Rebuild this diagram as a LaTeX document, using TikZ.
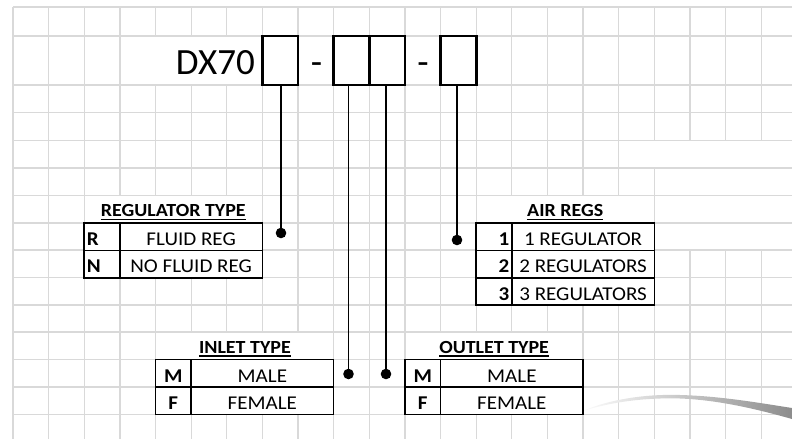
\documentclass[tikz,border=0pt]{standalone}
\usepackage{fontspec}
\setmainfont{Carlito}
\newfontfamily\tabfont[FakeStretch=1.08]{Carlito}
\begin{document}
\begin{tikzpicture}[x=1pt,y=-1pt,
    grid/.style={draw=black!15,line width=1.3pt},
    mask/.style={fill=white},
    big/.style={inner sep=0pt,font=\fontsize{37}{40}\selectfont},
    box/.style={draw,line width=2.6pt,fill=white,inner sep=0pt,outer sep=0pt,minimum width=35.63pt,minimum height=49pt,anchor=north west},
    cell/.style={draw,line width=1.6pt,fill=white,inner sep=0pt,outer sep=0pt,minimum width=142.5pt,minimum height=27.4pt,text height=17.6pt,text depth=0pt,anchor=north west,font=\tabfont\fontsize{19.5}{22}\selectfont},
    code/.style={cell,minimum width=35.63pt,text width=30.63pt,inner xsep=2.5pt,font=\tabfont\bfseries\fontsize{19.5}{22}\selectfont},
    ttl/.style={anchor=base,inner sep=0pt,font=\tabfont\bfseries\fontsize{18.5}{22}\selectfont},
    dot/.style={circle,fill,inner sep=0pt,minimum size=10.6pt},
    wire/.style={line width=1.2pt}]
  \useasboundingbox (0,0) rectangle (792,439);
  % sheet grid
  \foreach \i in {0,...,21}
    \draw[grid] (13+35.63*\i,7) -- (13+35.63*\i,439);
  \foreach \y in {7,36,85,112.7,140.5,168,195.5,223,250,277.5,305,332,359.5,387,414.3}
    \draw[grid] (13,\y) -- (792,\y);
  % hidden cell borders
  \foreach \a/\b/\c/\d in {120.8/36.8/261.6/84.2, 85/196.3/261.6/222.2, 477/196.3/653.5/222.2,
      156.3/332.8/333/358.7, 405.8/332.8/582.3/358.7, 619.6/141.3/792/167.2,
      655.1/168.8/792/194.7, 655.1/196.3/792/222.2, 655.1/223.8/792/249.2}
    \fill[mask] (\a,\b) rectangle (\c,\d);
  % swoosh
  \shade[left color=white,right color=black!45]
    (578,413) .. controls (610,398) and (650,394) .. (680,395)
    .. controls (720,396) and (760,403) .. (792,408) -- (792,419)
    .. controls (760,410) and (720,400) .. (680,398.5)
    .. controls (650,397.5) and (610,401) .. (578,413) -- cycle;

  % part number
  \node[big,anchor=base east] (dx) at (255,74) {DX70};
  \node[box] (b1) at (262.4,36) {};
  \node[big,anchor=base] (h1) at (316.5,74) {-};
  \node[box] (b2) at (333.7,36) {};
  \node[box] (b3) at (b2.north east) {};
  \node[big,anchor=base] (h2) at (423,74) {-};
  \node[box] (b4) at (440.6,36) {};

  % regulator type
  \node[ttl] (t1) at (173.3,216.7) {REGULATOR TYPE};
  \node[code,align=left] (r1) at (84.26,223) {R};
  \node[cell] (r2) at (r1.north east) {FLUID REG};
  \node[code,align=left] (r3) at (r1.south west) {N};
  \node[cell] (r4) at (r3.north east) {NO FLUID REG};

  % air regs
  \node[ttl] (t2) at (565.2,216.7) {AIR REGS};
  \node[code,align=right] (a1) at (476.2,223) {1};
  \node[cell] (a2) at (a1.north east) {1 REGULATOR};
  \node[code,align=right] (a3) at (a1.south west) {2};
  \node[cell] (a4) at (a3.north east) {2 REGULATORS};
  \node[code,align=right] (a5) at (a3.south west) {3};
  \node[cell] (a6) at (a5.north east) {3 REGULATORS};

  % inlet type
  \node[ttl] (t3) at (244.9,353.3) {INLET TYPE};
  \node[code,align=center] (i1) at (155.5,359.5) {M};
  \node[cell] (i2) at (i1.north east) {MALE};
  \node[code,align=center] (i3) at (i1.south west) {F};
  \node[cell] (i4) at (i3.north east) {FEMALE};

  % outlet type
  \node[ttl] (t4) at (494.1,353.3) {OUTLET TYPE};
  \node[code,align=center] (o1) at (405,359.5) {M};
  \node[cell] (o2) at (o1.north east) {MALE};
  \node[code,align=center] (o3) at (o1.south west) {F};
  \node[cell] (o4) at (o3.north east) {FEMALE};

  \foreach \t in {t1,t2,t3,t4}
    \draw[line width=1.6pt] ([yshift=-2.6pt]\t.base west) -- ([yshift=-2.6pt]\t.base east);

  % leaders
  \node[dot] (d1) at (281,233) {};
  \node[dot] (d2) at (348.5,374) {};
  \node[dot] (d3) at (386,374) {};
  \node[dot] (d4) at (457,240) {};
  \draw[wire] (b1.south -| d1) -- (d1);
  \draw[wire] (b2.south -| d2) -- (d2);
  \draw[wire] (b3.south -| d3) -- (d3);
  \draw[wire] (b4.south -| d4) -- (d4);
\end{tikzpicture}
\end{document}
